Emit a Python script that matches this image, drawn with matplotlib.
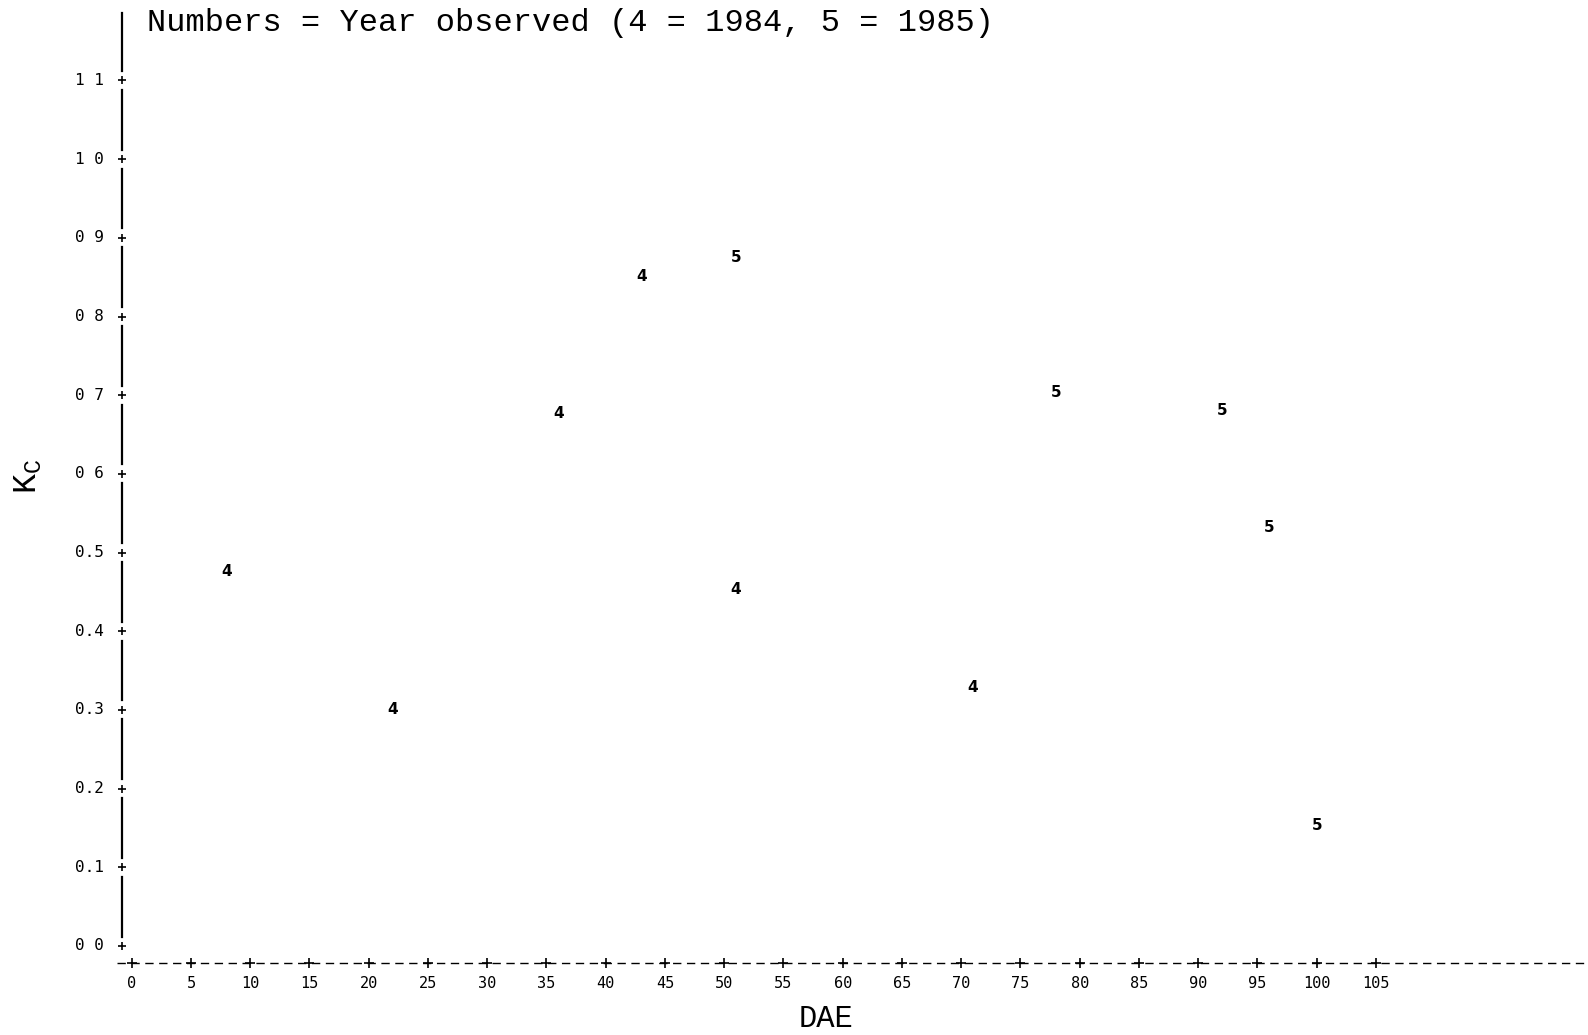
import matplotlib
matplotlib.use("Agg")
import matplotlib.pyplot as plt

# Data
dae = [8, 22, 36, 43, 51, 51, 71, 78, 92, 96, 100]
kc = [0.476, 0.301, 0.677, 0.851, 0.875, 0.453, 0.329, 0.704, 0.681, 0.532, 0.153]
year = ["4", "4", "4", "4", "5", "4", "4", "5", "5", "5", "5"]

x_ticks = list(range(0, 110, 5))
y_ticks = [0.0, 0.1, 0.2, 0.3, 0.4, 0.5, 0.6, 0.7, 0.8, 0.9, 1.0, 1.1]
y_tick_labels = ["0 0", "0.1", "0.2", "0.3", "0.4", "0.5", "0 6", "0 7", "0 8", "0 9", "1 0", "1 1"]

fig = plt.figure(figsize=(15.88, 10.35), dpi=100)
ax = fig.add_axes([0.0734, 0.0696, 0.9266, 0.9256])
ax.set_xlim(-1.28, 122.9)
ax.set_ylim(-0.0216, 1.196)
ax.axis("off")

mono = "Liberation Mono"
tick_font = "DejaVu Sans Mono"

# x axis: dashed printer-style line with + ticks
y0 = -0.0216
ax.plot([-1.28, 122.9], [y0, y0], color="black", lw=1.0, linestyle=(0, (6, 4)), clip_on=False)
ax.plot(x_ticks, [y0] * len(x_ticks), linestyle="none", marker="+", color="black",
        markersize=6.5, mew=1.2, clip_on=False)
for xt in x_ticks:
    ax.text(xt, y0 - 0.026, str(xt), ha="center", va="center", fontsize=11, family=tick_font)

# y axis: vertical line broken at each + tick
xa = -0.85
gap = 0.012
for lo, hi in zip(y_ticks[:-1], y_ticks[1:]):
    ax.plot([xa, xa], [lo + gap, hi - gap], color="black", lw=1.6)
ax.plot([xa, xa], [y_ticks[-1] + gap, 1.186], color="black", lw=1.6)
ax.plot([xa] * len(y_ticks), y_ticks, linestyle="none", marker="+", color="black",
        markersize=6, mew=1.2)
for yt, lab in zip(y_ticks, y_tick_labels):
    ax.text(xa - 1.5, yt, lab, ha="right", va="center", fontsize=11.5, family=tick_font)

# points as year digits
for xv, yv, lab in zip(dae, kc, year):
    ax.text(xv, yv, lab, ha="center", va="center", fontsize=11, family="DejaVu Sans",
            fontweight="semibold")

fig.text(147 / 1588, 1 - 23 / 1035, "Numbers = Year observed (4 = 1984, 5 = 1985)",
         ha="left", va="center", fontsize=23, family=mono)
fig.text(826 / 1588, 1 - 1019 / 1035, "DAE", ha="center", va="center", fontsize=22, family=mono)
fig.text(28 / 1588, 1 - 476 / 1035, r"$\mathregular{K_C}$", ha="center", va="center",
         rotation=90, fontsize=24, family=mono)

fig.savefig("out.png", dpi=100)
